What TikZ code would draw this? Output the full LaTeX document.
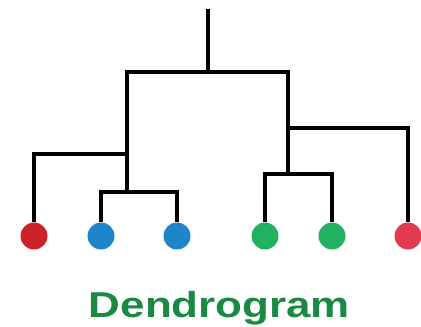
\documentclass[tikz,border=0pt]{standalone}
\usepackage{fontspec}
\setmainfont{Liberation Sans}
\usepackage{tikz}
\usetikzlibrary{positioning}
\usetikzlibrary{calc}

\definecolor{leafred}{HTML}{CC2229}
\definecolor{leafblue}{HTML}{1E85C8}
\definecolor{leafgreen}{HTML}{22B160}
\definecolor{leafpink}{HTML}{E23A50}
\definecolor{titlegreen}{HTML}{1A8A42}

\begin{document}
\begin{tikzpicture}[
    x=1pt, y=-1pt,          % pixel-like units, top-down
    ]
% -------------------------------------------------
\tikzset{
  leaf/.style={circle, inner sep=0pt, minimum size=27pt},
  link/.style={draw, line width=3.2pt, line join=miter},
  title/.style={font=\bfseries\fontsize{36}{36}\selectfont, text=titlegreen, xscale=1.22, inner sep=0pt, anchor=base}
}
% -------------------------------------------------
\useasboundingbox (0,0) rectangle (421,327);

% Placing the leaves
\node [leaf, fill=leafred]   (r1) at (34,236)  {};
\node [leaf, fill=leafblue]  (b1) at (101,236) {};
\node [leaf, fill=leafblue]  (b2) at (177,236) {};
\node [leaf, fill=leafgreen] (g1) at (265,236) {};
\node [leaf, fill=leafgreen] (g2) at (332,236) {};
\node [leaf, fill=leafpink]  (r2) at (408,236) {};

% Joins
\coordinate (top)   at (208,9);
\coordinate (jroot) at (208,72);
\coordinate (jred)  at (127,154);
\coordinate (jblue) at (127,192);
\coordinate (jpink) at (288,128);
\coordinate (jgrn)  at (288,174);

\path [link] (top) -- (jroot);
\path [link] (jblue) |- (jroot) -| (jgrn);
\path [link] (jred) -| (r1);
\path [link] (jblue) -| (b1);
\path [link] (jblue) -| (b2);
\path [link] (jpink) -| (r2);
\path [link] (jgrn) -| (g1);
\path [link] (jgrn) -| (g2);

\node [title] (lbl) at (219.5,317) {Dendrogram};

\end{tikzpicture}
\end{document}
